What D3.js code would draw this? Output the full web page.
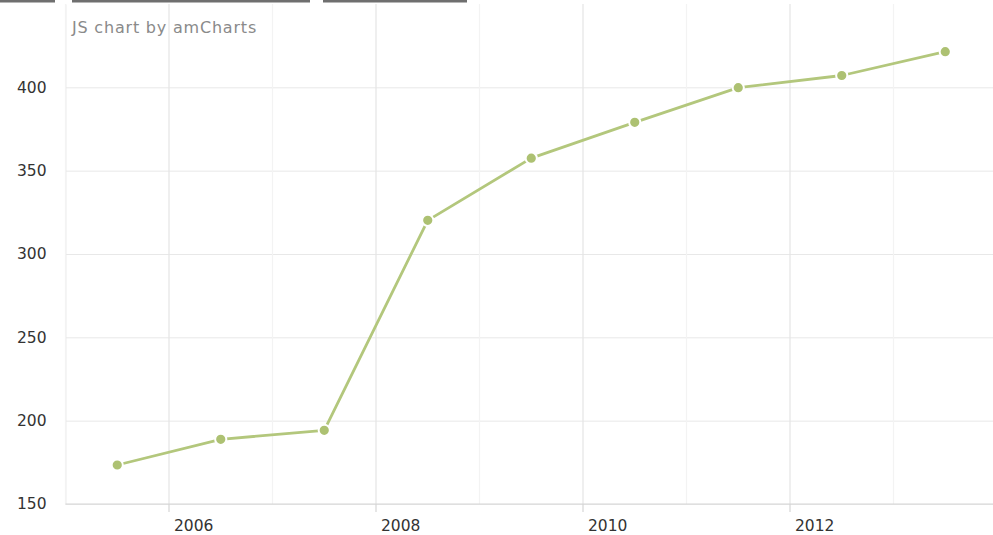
<!DOCTYPE html>
<html>
<head>
<meta charset="utf-8">
<script src="https://cdn.jsdelivr.net/npm/d3@7"></script>
<style>
  html, body { margin: 0; padding: 0; background: #fff; }
  svg { display: block; font-family: "DejaVu Sans", Verdana, sans-serif; }
</style>
</head>
<body>
<svg id="chart" width="993" height="535"></svg>
<script>
// Yearly values
const years = [2005, 2006, 2007, 2008, 2009, 2010, 2011, 2012, 2013];
const values = [173.4, 188.8, 194.2, 320.2, 357.5, 379.0, 399.8, 407.1, 421.4];
const yTicks = [150, 200, 250, 300, 350, 400];
const xLabelYears = [2006, 2008, 2010, 2012];
const credit = "JS chart by amCharts";

(function () {
  const svg = d3.select("#chart");
  const W = 993;
  const pLeft = 65.5, pRight = 997, pTop = 4, pBottom = 504;
  const bw = (pRight - pLeft) / years.length;

  // one band per year; bullets sit in the middle of their year
  const x = d3.scaleBand().domain(years.concat([2014])).range([pLeft, pRight + bw]).padding(0);
  const y = d3.scaleLinear().domain([150, 450]).range([pBottom, pTop]);

  // cut-off toolbar strips along the top edge
  const strips = svg.append("g").attr("fill", "#6f6f6f");
  [[0, 55], [72, 310], [323, 467]].forEach(([a, b]) =>
    strips.append("rect").attr("x", a).attr("y", 0).attr("width", b - a).attr("height", 2.5));

  // horizontal grid
  const yAxis = d3.axisLeft(y).tickValues(yTicks).tickSize(-(W - pLeft)).tickSizeOuter(0).tickPadding(19);
  const gy = svg.append("g").attr("transform", `translate(${pLeft},0)`).call(yAxis);
  gy.select(".domain").attr("stroke", "#ececec");
  gy.selectAll(".tick line").attr("stroke", "#e8e8e8").attr("stroke-width", 1);
  gy.selectAll(".tick text").attr("fill", "#333").attr("font-size", 15.5)
    .attr("font-family", "DejaVu Sans, Verdana, sans-serif");

  // vertical year grid lines (labelled years are a little stronger)
  svg.append("g").selectAll("line").data(years.concat([2014])).join("line")
    .attr("x1", d => x(d)).attr("x2", d => x(d))
    .attr("y1", pTop).attr("y2", pBottom)
    .attr("stroke", d => (d % 2 === 0 ? "#e4e4e4" : "#f3f3f3"))
    .attr("stroke-width", 1.2);

  // x axis baseline
  svg.append("line").attr("x1", pLeft).attr("x2", W).attr("y1", pBottom).attr("y2", pBottom)
    .attr("stroke", "#d6d6d6").attr("stroke-width", 1.2);

  // ticks and labels for even years, label to the right of the tick
  const xl = svg.append("g").selectAll("g").data(xLabelYears).join("g")
    .attr("transform", d => `translate(${x(d)},${pBottom})`);
  xl.append("line").attr("y1", 0).attr("y2", 8).attr("stroke", "#d6d6d6").attr("stroke-width", 1.2);
  xl.append("text").attr("x", 5).attr("y", 27).attr("fill", "#333").attr("font-size", 15.5)
    .text(d => d);

  // the series line
  const pts = years.map((yr, i) => ({ yr, v: values[i] }));
  const line = d3.line().x(d => x(d.yr) + bw / 2).y(d => y(d.v));
  svg.append("path").datum(pts).attr("d", line)
    .attr("fill", "none").attr("stroke", "#b3c77c").attr("stroke-width", 2.8)
    .attr("stroke-linejoin", "round");

  // bullets
  svg.append("g").selectAll("circle").data(pts).join("circle")
    .attr("cx", d => x(d.yr) + bw / 2).attr("cy", d => y(d.v))
    .attr("r", 5.6).attr("fill", "#adc172").attr("stroke", "#fff").attr("stroke-width", 2);

  // credit text
  svg.append("text").attr("x", 72).attr("y", 33).attr("fill", "#8a8a8a")
    .attr("font-size", 16).attr("letter-spacing", 0.8).text(credit);
})();
</script>
</body>
</html>
